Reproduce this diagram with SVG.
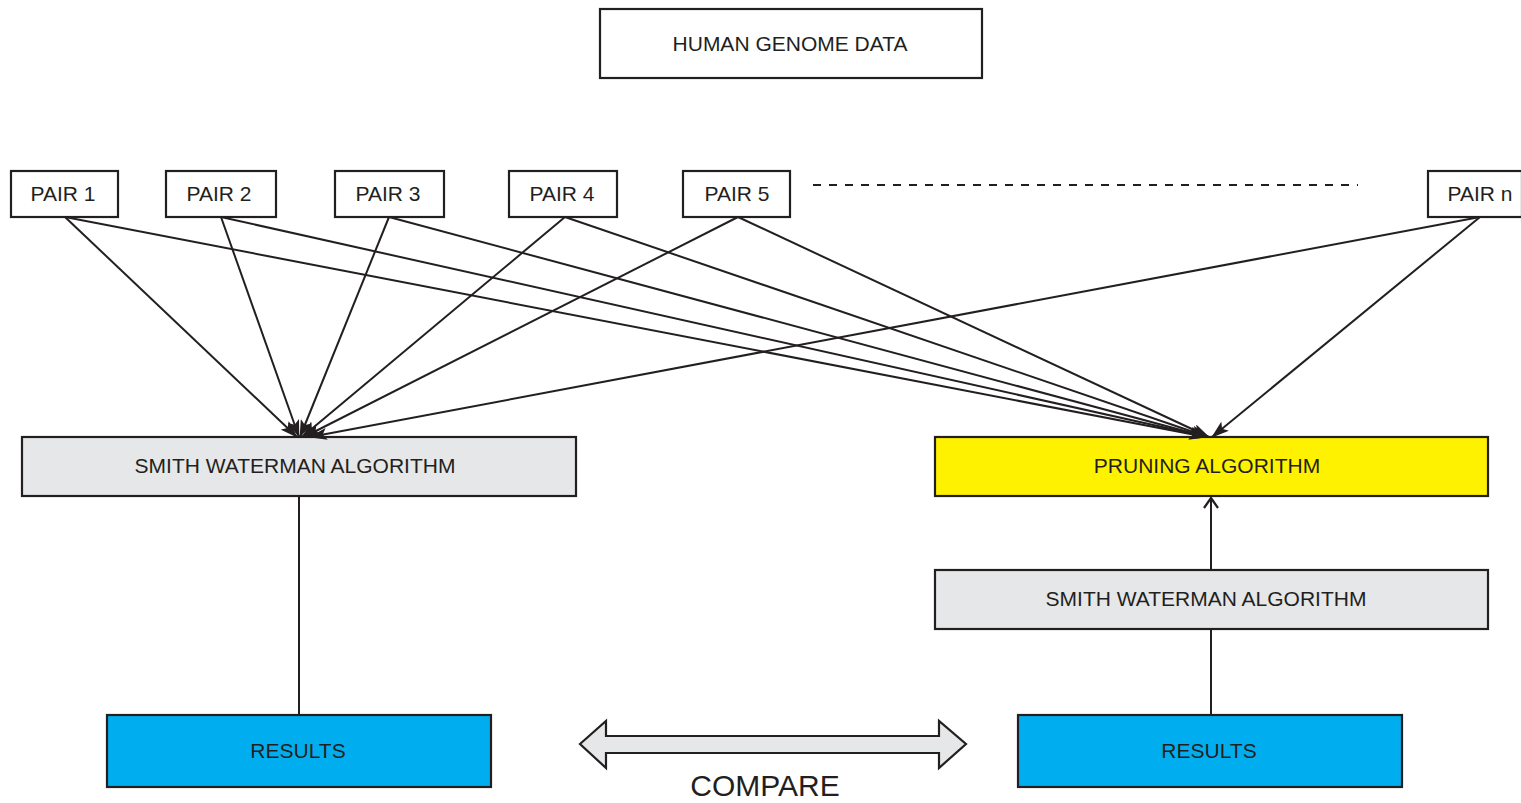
<svg xmlns="http://www.w3.org/2000/svg" width="1521" height="803" viewBox="0 0 1521 803">
<style>
  .box { stroke: #231f20; stroke-width: 2.2; }
  .plain { fill: #ffffff; }
  .grey { fill: #e6e7e8; }
  .yellow { fill: #fff200; }
  .blue { fill: #00aeef; }
  .lbl { font-family: "Liberation Sans", Arial, sans-serif; font-size: 21px; fill: #231f20; text-anchor: middle; dominant-baseline: central; }
  .link { stroke: #231f20; stroke-width: 2; fill: none; }
</style>
<defs>
  <marker id="head" markerWidth="18" markerHeight="12" refX="17" refY="6" orient="auto" markerUnits="userSpaceOnUse">
    <path d="M0,0 L18,6 L0,12 L4,6 Z" fill="#231f20"/>
  </marker>
  <marker id="open" markerWidth="14" markerHeight="16" refX="12" refY="8" orient="auto" markerUnits="userSpaceOnUse">
    <path d="M2,1 L12,8 L2,15" fill="none" stroke="#231f20" stroke-width="2.2"/>
  </marker>
</defs>

<g id="genome">
  <rect class="box plain" x="600" y="9" width="382" height="69"/>
  <text class="lbl" x="790" y="43">HUMAN GENOME DATA</text>
</g>

<g id="pair1"><rect class="box plain" x="11" y="171" width="107" height="46"/><text class="lbl" x="63" y="193">PAIR 1</text></g>
<g id="pair2"><rect class="box plain" x="166" y="171" width="110" height="46"/><text class="lbl" x="219" y="193">PAIR 2</text></g>
<g id="pair3"><rect class="box plain" x="335" y="171" width="109" height="46"/><text class="lbl" x="388" y="193">PAIR 3</text></g>
<g id="pair4"><rect class="box plain" x="509" y="171" width="108" height="46"/><text class="lbl" x="562" y="193">PAIR 4</text></g>
<g id="pair5"><rect class="box plain" x="683" y="171" width="107" height="46"/><text class="lbl" x="737" y="193">PAIR 5</text></g>
<g id="pairn"><rect class="box plain" x="1428" y="171" width="94" height="46"/><text class="lbl" x="1480" y="193">PAIR n</text></g>

<g id="sw-left">
  <rect class="box grey" x="22" y="437" width="554" height="59"/>
  <text class="lbl" x="295" y="465">SMITH WATERMAN ALGORITHM</text>
</g>
<g id="pruning">
  <rect class="box yellow" x="935" y="437" width="553" height="59"/>
  <text class="lbl" x="1207" y="465">PRUNING ALGORITHM</text>
</g>
<g id="sw-right">
  <rect class="box grey" x="935" y="570" width="553" height="59"/>
  <text class="lbl" x="1206" y="598">SMITH WATERMAN ALGORITHM</text>
</g>
<g id="results-left">
  <rect class="box blue" x="107" y="715" width="384" height="72"/>
  <text class="lbl" x="298" y="750">RESULTS</text>
</g>
<g id="results-right">
  <rect class="box blue" x="1018" y="715" width="384" height="72"/>
  <text class="lbl" x="1209" y="750">RESULTS</text>
</g>

<g id="connectors">
  <line class="link" x1="813" y1="185" x2="1358" y2="185" stroke-dasharray="8,8"/>
  <!-- pairs into the Smith Waterman block -->
  <line class="link" x1="65" y1="217" x2="297" y2="437" marker-end="url(#head)"/>
  <line class="link" x1="221" y1="217" x2="299" y2="437" marker-end="url(#head)"/>
  <line class="link" x1="389" y1="217" x2="300" y2="437" marker-end="url(#head)"/>
  <line class="link" x1="565" y1="217" x2="302" y2="437" marker-end="url(#head)"/>
  <line class="link" x1="738" y1="217" x2="304" y2="437" marker-end="url(#head)"/>
  <line class="link" x1="1480" y1="217" x2="310" y2="437" marker-end="url(#head)"/>
  <!-- pairs into the pruning block -->
  <line class="link" x1="65" y1="217" x2="1206" y2="437" marker-end="url(#head)"/>
  <line class="link" x1="221" y1="217" x2="1207" y2="437" marker-end="url(#head)"/>
  <line class="link" x1="389" y1="217" x2="1207" y2="437" marker-end="url(#head)"/>
  <line class="link" x1="565" y1="217" x2="1208" y2="437" marker-end="url(#head)"/>
  <line class="link" x1="738" y1="217" x2="1209" y2="437" marker-end="url(#head)"/>
  <line class="link" x1="1480" y1="217" x2="1212" y2="437" marker-end="url(#head)"/>
  <!-- vertical flows -->
  <line class="link" x1="299" y1="497" x2="299" y2="715"/>
  <line class="link" x1="1211" y1="570" x2="1211" y2="498" marker-end="url(#open)"/>
  <line class="link" x1="1211" y1="715" x2="1211" y2="630"/>
  <!-- compare double arrow -->
  <path d="M580,744 L606,721 L606,736 L939,736 L939,721 L966,744 L939,768 L939,753 L606,753 L606,768 Z" fill="#e6e7e8" stroke="#231f20" stroke-width="2.2" stroke-linejoin="miter"/>
</g>
<text x="765" y="796" font-family="Liberation Sans, Arial, sans-serif" font-size="30" fill="#231f20" text-anchor="middle">COMPARE</text>
</svg>
